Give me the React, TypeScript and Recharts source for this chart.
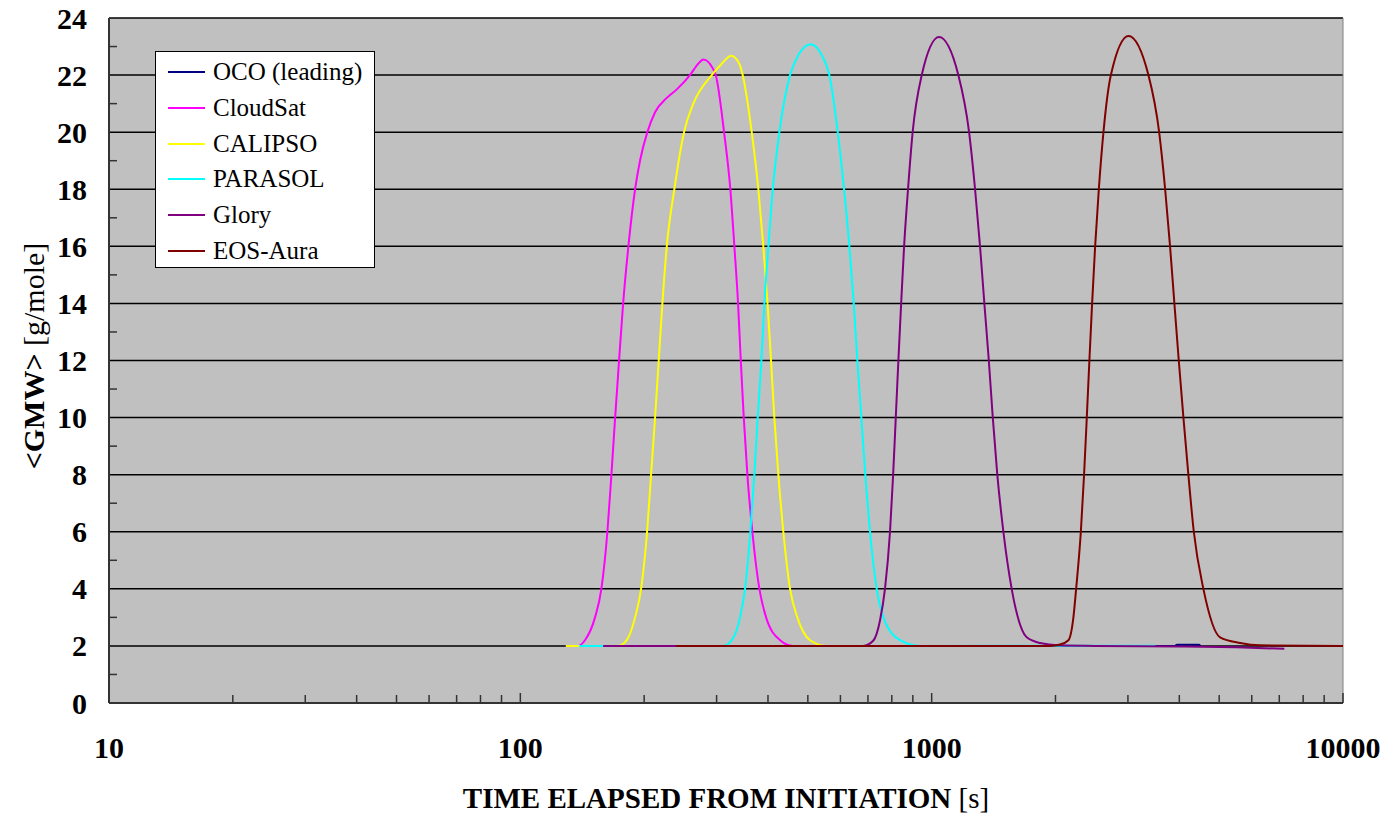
import { LineChart, Line, XAxis, YAxis, CartesianGrid, ReferenceLine } from 'recharts'

// [time elapsed (s), <GMW> (g/mole)]
const ocoLeading: [number, number][] = [
  [159, 2], [1000, 2], [3900, 2], [3950, 2.04], [4470, 2.04], [4500, 2],
]

const cloudSat: [number, number][] = [
  [129, 2], [138.1, 2], [143.6, 2.2], [151.9, 3], [157.4, 4], [162.8, 6], [166.5, 8],
  [170, 10], [173.8, 12], [177.8, 14], [183.1, 16], [190.1, 18], [195.4, 19],
  [203.6, 20], [212.6, 20.7], [227, 21.2], [240.1, 21.5], [258.5, 22], [270.8, 22.4],
  [278.6, 22.55], [294.6, 22.2], [298.6, 22], [312.8, 20], [324, 18], [331.4, 16],
  [338.3, 14], [343.5, 12], [349.3, 10], [356.4, 8], [366.5, 6], [381.2, 4],
  [395.8, 3], [428.1, 2.2], [460.3, 2], [1000, 2],
]

const calipso: [number, number][] = [
  [129, 2], [173.1, 2], [181.4, 2.2], [190.1, 3], [196.6, 4], [203.3, 6], [207.9, 8],
  [212.6, 10], [217, 12], [221.5, 14], [227, 16], [236.8, 18], [250, 20], [263.4, 21],
  [292, 22], [308.8, 22.4], [325.3, 22.68], [340.7, 22.4], [347.2, 22], [365.2, 20],
  [379, 18], [389.7, 16], [399, 14], [406.9, 12], [414.5, 10], [423.9, 8], [435.9, 6],
  [452.6, 4], [471.5, 3], [506.2, 2.2], [555.9, 2], [1000, 2],
]

const parasol: [number, number][] = [
  [139, 2], [311.6, 2], [326.6, 2.2], [342.1, 3], [351.8, 4], [362.4, 6], [370.6, 8],
  [377.7, 10], [385.5, 12], [392, 14], [400.9, 16], [410.9, 18], [426.3, 20],
  [452.6, 22], [474.1, 22.7], [508.2, 23.08], [540.5, 22.7], [564, 22], [591.1, 20],
  [612.4, 18], [630.8, 16], [646.5, 14], [659.7, 12], [674.6, 10], [689.8, 8],
  [708.2, 6], [735.3, 4], [763, 3], [837.9, 2.2], [937.2, 2], [3500, 2.01],
]

const glory: [number, number][] = [
  [159, 2], [681, 2], [721.7, 2.19], [749, 2.9], [770, 4], [792, 6], [806, 8],
  [818, 10], [830, 12], [843, 14], [857, 16], [876, 18], [899, 20], [946, 22],
  [1042, 23.33], [1161, 22], [1233, 20], [1275, 18], [1311, 16], [1343, 14],
  [1377, 12], [1408, 10], [1444, 8], [1494, 6], [1565, 4], [1703, 2.3], [1835, 2.1],
  [2052, 2.02], [2500, 2], [4000, 1.98], [5500, 1.95], [7200, 1.9],
]

const eosAura: [number, number][] = [
  [239, 2], [1941, 2], [2052, 2.05], [2150, 2.2], [2211, 3], [2245, 4], [2305, 6],
  [2347, 8], [2383, 10], [2418, 12], [2455, 14], [2497, 16], [2549, 18], [2616, 20],
  [2727, 22], [3009, 23.37], [3365, 22], [3573, 20], [3695, 18], [3798, 16],
  [3891, 14], [3988, 12], [4093, 10], [4208, 8], [4338, 6], [4577, 4], [5026, 2.3],
  [5623, 2.1], [6288, 2.02], [10000, 2],
]

const seriesNames = ['OCO (leading)', 'CloudSat', 'CALIPSO', 'PARASOL', 'Glory', 'EOS-Aura']
const seriesColors = ['#000080', '#FF00FF', '#FFFF00', '#00FFFF', '#800080', '#800000']
const seriesData = [ocoLeading, cloudSat, calipso, parasol, glory, eosAura]

const xMajorTicks = [10, 100, 1000, 10000]
const xMinorTicks = [
  20, 30, 40, 50, 60, 70, 80, 90,
  200, 300, 400, 500, 600, 700, 800, 900,
  2000, 3000, 4000, 5000, 6000, 7000, 8000, 9000,
]
const yMajorTicks = [0, 2, 4, 6, 8, 10, 12, 14, 16, 18, 20, 22, 24]
const yMinorTicks = [1, 3, 5, 7, 9, 11, 13, 15, 17, 19, 21, 23]

const FONT = '"Liberation Serif", "Times New Roman", serif'

const toRows = (pts: [number, number][]) => pts.map(([t, v]) => ({ t, v }))

const XTick = (props: any) => {
  const { x, y, payload } = props
  const major = xMajorTicks.includes(payload.value)
  return (
    <g>
      <line x1={x} x2={x} y1={y} y2={y - (major ? 10 : 8)} stroke="#333" strokeWidth={1.5} />
      {major && (
        <text x={x} y={y + 55} textAnchor="middle" fontFamily={FONT} fontWeight="bold" fontSize={30} fill="#000">
          {payload.value}
        </text>
      )}
    </g>
  )
}

const YTick = (props: any) => {
  const { x, y, payload } = props
  const major = yMajorTicks.includes(payload.value)
  return (
    <g>
      {!major && <line x1={x} x2={x + 8} y1={y} y2={y} stroke="#333" strokeWidth={1.5} />}
      {major && (
        <text x={x - 22} y={y} dy="0.35em" textAnchor="end" fontFamily={FONT} fontWeight="bold" fontSize={30} fill="#000">
          {payload.value}
        </text>
      )}
    </g>
  )
}

const YTitle = () => (
  <text x={33} y={356} transform="rotate(-90 33 356)" textAnchor="middle" dy="0.35em" fontFamily={FONT} fontSize={30} fill="#000">
    <tspan fontWeight="bold">{'<GMW>'}</tspan>
    <tspan>{' [g/mole]'}</tspan>
  </text>
)

const XTitle = () => (
  <text x={726} y={808} textAnchor="middle" fontFamily={FONT} fontSize={29} fill="#000">
    <tspan fontWeight="bold">TIME ELAPSED FROM INITIATION</tspan>
    <tspan>{' [s]'}</tspan>
  </text>
)

const ChartLegend = () => (
  <div
    style={{
      position: 'absolute', left: 155, top: 51, width: 218, height: 215,
      background: '#fff', border: '1px solid #000', fontFamily: FONT, fontSize: 25,
    }}
  >
    {seriesNames.map((name, i) => (
      <div key={name} style={{ position: 'absolute', left: 12, top: 6 + i * 35.8, height: 28, display: 'flex', alignItems: 'center' }}>
        <span style={{ display: 'inline-block', width: 37, height: 2, background: seriesColors[i], marginRight: 8 }} />
        <span style={{ lineHeight: '28px', whiteSpace: 'nowrap' }}>{name}</span>
      </div>
    ))}
  </div>
)

export default function App() {
  return (
    <div style={{ position: 'absolute', left: 0, top: 0, width: 1388, height: 815, background: '#fff' }}>
      <LineChart width={1388} height={815} margin={{ top: 18, right: 45, left: 0, bottom: 0 }}>
        <CartesianGrid
          vertical={false}
          horizontalValues={[2, 4, 6, 8, 10, 12, 14, 16, 18, 20, 22, 24]}
          stroke="#000"
          strokeWidth={1.5}
          fill="#C0C0C0"
          fillOpacity={1}
        />
        <XAxis
          type="number"
          dataKey="t"
          scale="log"
          domain={[10, 10000]}
          allowDataOverflow
          ticks={[...xMajorTicks, ...xMinorTicks].sort((a, b) => a - b)}
          interval={0}
          tickSize={0}
          tickMargin={0}
          tickLine={false}
          tick={<XTick />}
          axisLine={{ stroke: '#333', strokeWidth: 2 }}
          height={112}
          label={<XTitle />}
        />
        <YAxis
          type="number"
          domain={[0, 24]}
          ticks={[...yMajorTicks, ...yMinorTicks].sort((a, b) => a - b)}
          interval={0}
          tickSize={0}
          tickMargin={0}
          tickLine={false}
          tick={<YTick />}
          axisLine={{ stroke: '#333', strokeWidth: 2 }}
          width={109}
          label={<YTitle />}
        />
        <ReferenceLine x={10000} stroke="#808080" strokeWidth={1} />
        {seriesData.map((pts, i) => (
          <Line
            key={seriesNames[i]}
            data={toRows(pts)}
            dataKey="v"
            name={seriesNames[i]}
            type="monotone"
            stroke={seriesColors[i]}
            strokeWidth={2}
            dot={false}
            activeDot={false}
            isAnimationActive={false}
          />
        ))}
      </LineChart>
      <ChartLegend />
    </div>
  )
}
